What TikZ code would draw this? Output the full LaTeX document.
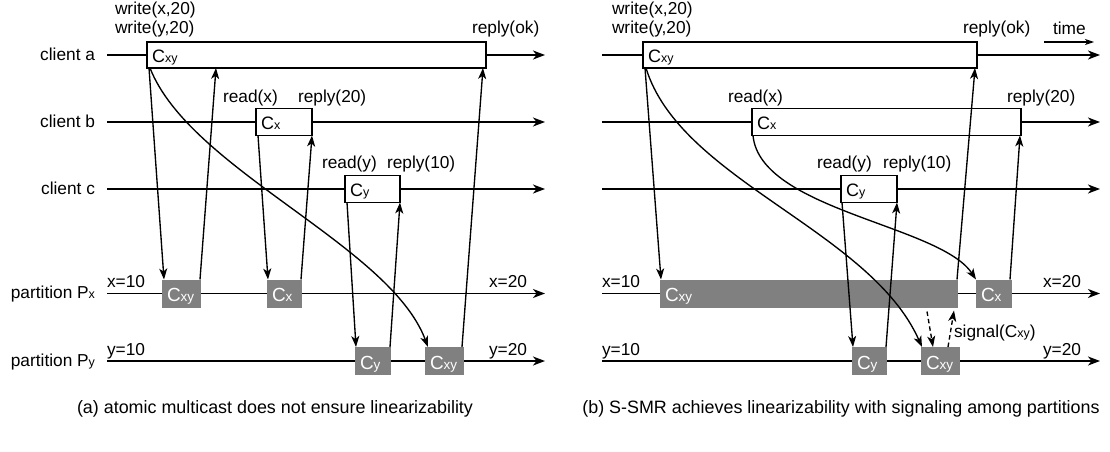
\documentclass[tikz,border=0pt]{standalone}
\usepackage{fontspec}
\setmainfont{Liberation Sans}
\usetikzlibrary{arrows.meta}
\newcommand{\sbs}[1]{{\fontsize{12.5}{12.5}\selectfont #1}}
\newcommand{\gsbs}[1]{{\fontsize{13.5}{13.5}\selectfont #1}}
\begin{document}
\begin{tikzpicture}[x=1pt,y=-1pt,
  txt/.style={font=\fontsize{17.3}{19.5}\selectfont, inner sep=0pt, outer sep=0pt},
  btxt/.style={font=\fontsize{18}{20}\selectfont, inner sep=0pt, outer sep=0pt},
  gtxt/.style={font=\fontsize{19}{21}\selectfont, inner sep=0pt, outer sep=0pt, text=white},
  captxt/.style={font=\fontsize{17.9}{20}\selectfont, inner sep=0pt, outer sep=0pt},
  tline/.style={line width=1.5pt, -{Stealth[length=12pt,width=9pt,inset=3.5pt]}},
  msg/.style={line width=1.35pt, -{Stealth[length=11pt,width=8pt,inset=3pt]}},
  sig/.style={msg, dash pattern=on 4.5pt off 3pt},
  wbox/.style={draw=black, line width=1.4pt, fill=white, inner sep=0pt, outer sep=0pt, anchor=north west},
  gbox/.style={fill=gray, draw=none, inner sep=0pt, outer sep=0pt, anchor=north west},
]
\useasboundingbox[fill=white] (0,0) rectangle (1110,452);

% ================= LEFT PANEL =================
\coordinate (LAs) at (107,55);    \coordinate (LAe) at (545,55);
\coordinate (LBs) at (107,122);   \coordinate (LBe) at (545,122);
\coordinate (LCs) at (107,189);   \coordinate (LCe) at (545,189);
\coordinate (LXs) at (107,293.5); \coordinate (LXe) at (545,293.5);
\coordinate (LYs) at (107,361);   \coordinate (LYe) at (545,361);
\foreach \s/\e in {LAs/LAe,LBs/LBe,LCs/LCe,LXs/LXe,LYs/LYe} \draw[tline] (\s) -- (\e);

\node[txt, anchor=base east] (lca) at (95,60) {client a};
\node[txt, anchor=base east] (lcb) at (95,127) {client b};
\node[txt, anchor=base east] (lcc) at (95,194) {client c};
\node[txt, anchor=base east] (lpx) at (95,298) {partition P\sbs{x}};
\node[txt, anchor=base east] (lpy) at (95,366) {partition P\sbs{y}};

\node[txt, anchor=base west] (lw1) at (115,15) {write(x,20)};
\node[txt, anchor=base west] (lw2) at (115,34) {write(y,20)};
\node[txt, anchor=base west] (lrok) at (472,34) {reply(ok)};
\node[txt, anchor=base west] (lrx) at (223,102) {read(x)};
\node[txt, anchor=base west] (lr20) at (298,102) {reply(20)};
\node[txt, anchor=base west] (lry) at (322,168) {read(y)};
\node[txt, anchor=base west] (lr10) at (387,168) {reply(10)};
\node[txt, anchor=base west] (lx10) at (107,287) {x=10};
\node[txt, anchor=base west] (lx20) at (489,287) {x=20};
\node[txt, anchor=base west] (ly10) at (107,355) {y=10};
\node[txt, anchor=base west] (ly20) at (489,355) {y=20};

\node[wbox, minimum width=339pt, minimum height=26pt] (a1) at (147,42) {};
\node[wbox, minimum width=56pt, minimum height=27pt] (b1) at (256,108.5) {};
\node[wbox, minimum width=55pt, minimum height=27pt] (c1) at (345,175.5) {};
\node[gbox, minimum width=39pt, minimum height=28pt] (px1) at (162,279.5) {};
\node[gbox, minimum width=35pt, minimum height=28pt] (px2) at (267,279.5) {};
\node[gbox, minimum width=36pt, minimum height=28pt] (py1) at (355,347) {};
\node[gbox, minimum width=39pt, minimum height=28pt] (py2) at (425,347) {};

\node[btxt, anchor=base west] (a1t) at ([xshift=5pt,yshift=5.5pt]a1.south west) {C\sbs{xy}};
\node[btxt, anchor=base west] (b1t) at ([xshift=5pt,yshift=6pt]b1.south west) {C\sbs{x}};
\node[btxt, anchor=base west] (c1t) at ([xshift=5pt,yshift=6pt]c1.south west) {C\sbs{y}};
\node[gtxt, anchor=base west] (px1t) at ([xshift=5pt,yshift=6pt]px1.south west) {C\gsbs{xy}};
\node[gtxt, anchor=base west] (px2t) at ([xshift=5pt,yshift=6pt]px2.south west) {C\gsbs{x}};
\node[gtxt, anchor=base west] (py1t) at ([xshift=5pt,yshift=6pt]py1.south west) {C\gsbs{y}};
\node[gtxt, anchor=base west] (py2t) at ([xshift=5pt,yshift=6pt]py2.south west) {C\gsbs{xy}};

\draw[msg] ([xshift=2pt]a1.south west) -- ([xshift=2pt]px1.north west);
\draw[msg] ([xshift=-1pt]px1.north east) -- ([xshift=69pt]a1.south west);
\draw[msg] ([xshift=2pt]b1.south west) -- ([xshift=1pt]px2.north west);
\draw[msg] ([xshift=-1pt]px2.north east) -- (b1.south east);
\draw[msg] ([xshift=2pt]c1.south west) -- ([xshift=1pt]py1.north west);
\draw[msg] ([xshift=-1pt]py1.north east) -- (c1.south east);
\draw[msg] ([xshift=-2pt]py2.north east) -- ([xshift=-3pt]a1.south east);
\draw[msg] ([xshift=3pt]a1.south west) .. controls (190,170) and (390,245) .. ([xshift=3pt]py2.north west);

\node[captxt, anchor=base] (capa) at (275,413) {(a) atomic multicast does not ensure linearizability};

% ================= RIGHT PANEL =================
\coordinate (RAs) at (602,55);    \coordinate (RAe) at (1100,55);
\coordinate (RBs) at (602,122);   \coordinate (RBe) at (1100,122);
\coordinate (RCs) at (602,189);   \coordinate (RCe) at (1100,189);
\coordinate (RXs) at (602,293.5); \coordinate (RXe) at (1100,293.5);
\coordinate (RYs) at (602,361);   \coordinate (RYe) at (1100,361);
\foreach \s/\e in {RAs/RAe,RBs/RBe,RCs/RCe,RXs/RXe,RYs/RYe} \draw[tline] (\s) -- (\e);

\coordinate (T0) at (1044,42); \coordinate (T1) at (1094,42);
\draw[line width=1.2pt, -{Stealth[length=9pt,width=6pt,inset=2.5pt]}] (T0) -- (T1);
\node[txt, anchor=base west] (rtime) at (1053,35) {time};

\node[txt, anchor=base west] (rw1) at (612,15) {write(x,20)};
\node[txt, anchor=base west] (rw2) at (612,34) {write(y,20)};
\node[txt, anchor=base west] (rrok) at (963,34) {reply(ok)};
\node[txt, anchor=base west] (rrx) at (728,102) {read(x)};
\node[txt, anchor=base west] (rr20) at (1007,102) {reply(20)};
\node[txt, anchor=base west] (rry) at (817,168) {read(y)};
\node[txt, anchor=base west] (rr10) at (883,168) {reply(10)};
\node[txt, anchor=base west] (rx10) at (602,287) {x=10};
\node[txt, anchor=base west] (rx20) at (1043,287) {x=20};
\node[txt, anchor=base west] (ry10) at (602,355) {y=10};
\node[txt, anchor=base west] (ry20) at (1043,355) {y=20};
\node[txt, anchor=base west] (rsig) at (954,337) {signal(C\sbs{xy})};

\node[wbox, minimum width=334pt, minimum height=26pt] (a2) at (643,42) {};
\node[wbox, minimum width=269pt, minimum height=27pt] (b2) at (752,108.5) {};
\node[wbox, minimum width=56pt, minimum height=27pt] (c2) at (841,175.5) {};
\node[gbox, minimum width=298pt, minimum height=28pt] (qx1) at (660,279.5) {};
\node[gbox, minimum width=36pt, minimum height=28pt] (qx2) at (976,279.5) {};
\node[gbox, minimum width=35pt, minimum height=28pt] (qy1) at (852,347) {};
\node[gbox, minimum width=39pt, minimum height=28pt] (qy2) at (921,347) {};

\node[btxt, anchor=base west] (a2t) at ([xshift=5pt,yshift=5.5pt]a2.south west) {C\sbs{xy}};
\node[btxt, anchor=base west] (b2t) at ([xshift=5pt,yshift=6pt]b2.south west) {C\sbs{x}};
\node[btxt, anchor=base west] (c2t) at ([xshift=5pt,yshift=6pt]c2.south west) {C\sbs{y}};
\node[gtxt, anchor=base west] (qx1t) at ([xshift=5pt,yshift=6pt]qx1.south west) {C\gsbs{xy}};
\node[gtxt, anchor=base west] (qx2t) at ([xshift=5pt,yshift=6pt]qx2.south west) {C\gsbs{x}};
\node[gtxt, anchor=base west] (qy1t) at ([xshift=5pt,yshift=6pt]qy1.south west) {C\gsbs{y}};
\node[gtxt, anchor=base west] (qy2t) at ([xshift=5pt,yshift=6pt]qy2.south west) {C\gsbs{xy}};

\draw[msg] ([xshift=2pt]a2.south west) -- ([xshift=1pt]qx1.north west);
\draw[msg] ([xshift=3pt]a2.south west) .. controls (680,180) and (870,230) .. ([xshift=1pt]qy2.north west);
\draw[msg] ([xshift=1pt]b2.south west) .. controls (760,210) and (940,225) .. (qx2.north west);
\draw[msg] ([xshift=1pt]c2.south west) -- ([xshift=1pt]qy1.north west);
\draw[msg] ([xshift=-1pt]qy1.north east) -- (c2.south east);
\draw[msg] ([xshift=-1pt]qx1.north east) -- ([xshift=-2pt]a2.south east);
\draw[msg] ([xshift=-2pt]qx2.north east) -- ([xshift=-1pt]b2.south east);
\draw[sig] ([xshift=-31pt,yshift=-4pt]qx1.south east) -- ([xshift=12pt]qy2.north west);
\draw[sig] ([xshift=27pt]qy2.north west) -- ([xshift=-4pt,yshift=-3pt]qx1.south east);

\node[captxt, anchor=base] (capb) at (841,413) {(b) S-SMR achieves linearizability with signaling among partitions};
\end{tikzpicture}
\end{document}
